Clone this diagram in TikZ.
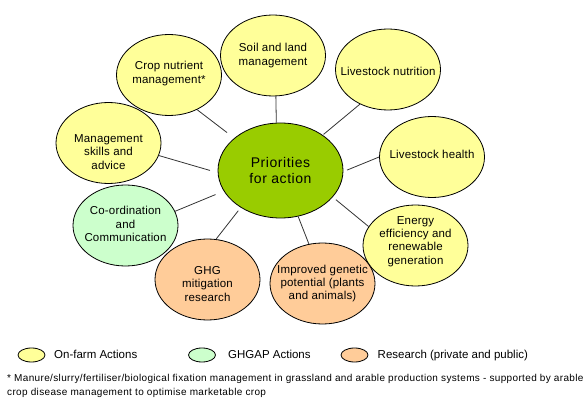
\documentclass[tikz,border=0pt]{standalone}
\usepackage{fontspec}
\setmainfont{Liberation Sans}
\usetikzlibrary{shapes.geometric}
\definecolor{farmyellow}{HTML}{FFFF99}
\definecolor{gapgreen}{HTML}{CCFFCC}
\definecolor{researchorange}{HTML}{FFCC99}
\definecolor{prioritygreen}{HTML}{99CC00}
\tikzset{
    action edge/.style = {draw, line width=0.8pt, black!80},
    action/.style = {ellipse, draw, line width=0.8pt, minimum width=105pt, minimum height=81pt, inner sep=0pt},
    on farm/.style = {action, fill=farmyellow},
    ghgap/.style = {action, fill=gapgreen},
    research/.style = {action, fill=researchorange},
    action text/.style = {align=center, inner sep=0pt, font=\fontsize{11.5}{13.3}\selectfont\addfontfeature{LetterSpace=1.5}},
    key/.style = {ellipse, draw, line width=0.8pt, minimum width=27pt, minimum height=14pt, inner sep=0pt},
    key text/.style = {anchor=base west, inner sep=0pt, font=\fontsize{11.5}{13}\selectfont},
    note text/.style = {anchor=base west, inner sep=0pt, font=\fontsize{10}{13.5}\selectfont\addfontfeature{LetterSpace=3.5}},
}

\begin{document}
\begin{tikzpicture}[x=1pt, y=-1pt]
    \useasboundingbox (0,0) rectangle (585,411);

    % centre
    \node[action, fill=prioritygreen, minimum width=125pt, minimum height=95pt] (centre) at (280.5,170.5) {};
    \node[align=center, inner sep=0pt, font=\fontsize{14}{15.5}\selectfont\addfontfeature{LetterSpace=4}] (centre text) at (centre) {Priorities\\for action};

    % actions round it
    \node[on farm] (crop) at (169,75) {};
    \node[on farm] (soil) at (273,55.5) {};
    \node[on farm] (nutrition) at (388,69.5) {};
    \node[on farm] (health) at (432,157) {};
    \node[on farm] (energy) at (415.5,245.5) {};
    \node[research] (genetic) at (322.5,283.5) {};
    \node[research] (ghg) at (207.5,279.5) {};
    \node[ghgap] (coord) at (125.5,225.5) {};
    \node[on farm] (skills) at (108.5,143) {};

    \node[action text] (crop text) at ([yshift=1.5pt]crop) {Crop nutrient\\management*};
    \node[action text] (soil text) at (soil) {Soil and land\\management};
    \node[action text] (nutrition text) at ([yshift=-2pt]nutrition) {Livestock nutrition};
    \node[action text] (health text) at ([yshift=3pt]health) {Livestock health};
    \node[action text] (energy text) at ([yshift=4pt]energy) {Energy\\efficiency and\\renewable\\generation};
    \node[action text] (genetic text) at (genetic) {Improved genetic\\potential (plants\\and animals)};
    \node[action text] (ghg text) at ([yshift=-4.5pt]ghg) {GHG\\mitigation\\research};
    \node[action text] (coord text) at ([yshift=1.5pt]coord) {Co-ordination\\and\\Communication};
    \node[action text] (skills text) at ([yshift=-9pt]skills) {Management\\skills and\\advice};

    \foreach \leaf/\from/\to/\gap in {crop/-51/145/9pt, soil/-86/95/0pt, nutrition/-129/40/1pt,
        health/180/-1/4pt, energy/158/-27/4pt, genetic/109/-69/0pt, ghg/78/-137/4pt,
        coord/16/-160/9pt, skills/-14/182/8pt}
        \draw[action edge, shorten >=\gap] (\leaf.\from) -- (centre.\to);

    % key
    \node[key, fill=farmyellow] (farm key) at (31.5,355) {};
    \node[key text] (farm label) at (54,358.5) {On-farm Actions};
    \node[key, fill=gapgreen] (ghgap key) at (202,355) {};
    \node[key text] (ghgap label) at (228,358.5) {GHGAP Actions};
    \node[key, fill=researchorange] (research key) at (354.5,355) {};
    \node[key text] (research label) at (377.5,358.5) {Research (private and public)};

    % footnote
    \node[note text] (note one) at (7,381.7)
        {* Manure/slurry/fertiliser/biological fixation management in grassland and arable production systems - supported by arable};
    \node[note text] (note two) at (7,395.5)
        {crop disease management to optimise marketable crop};
\end{tikzpicture}
\end{document}
